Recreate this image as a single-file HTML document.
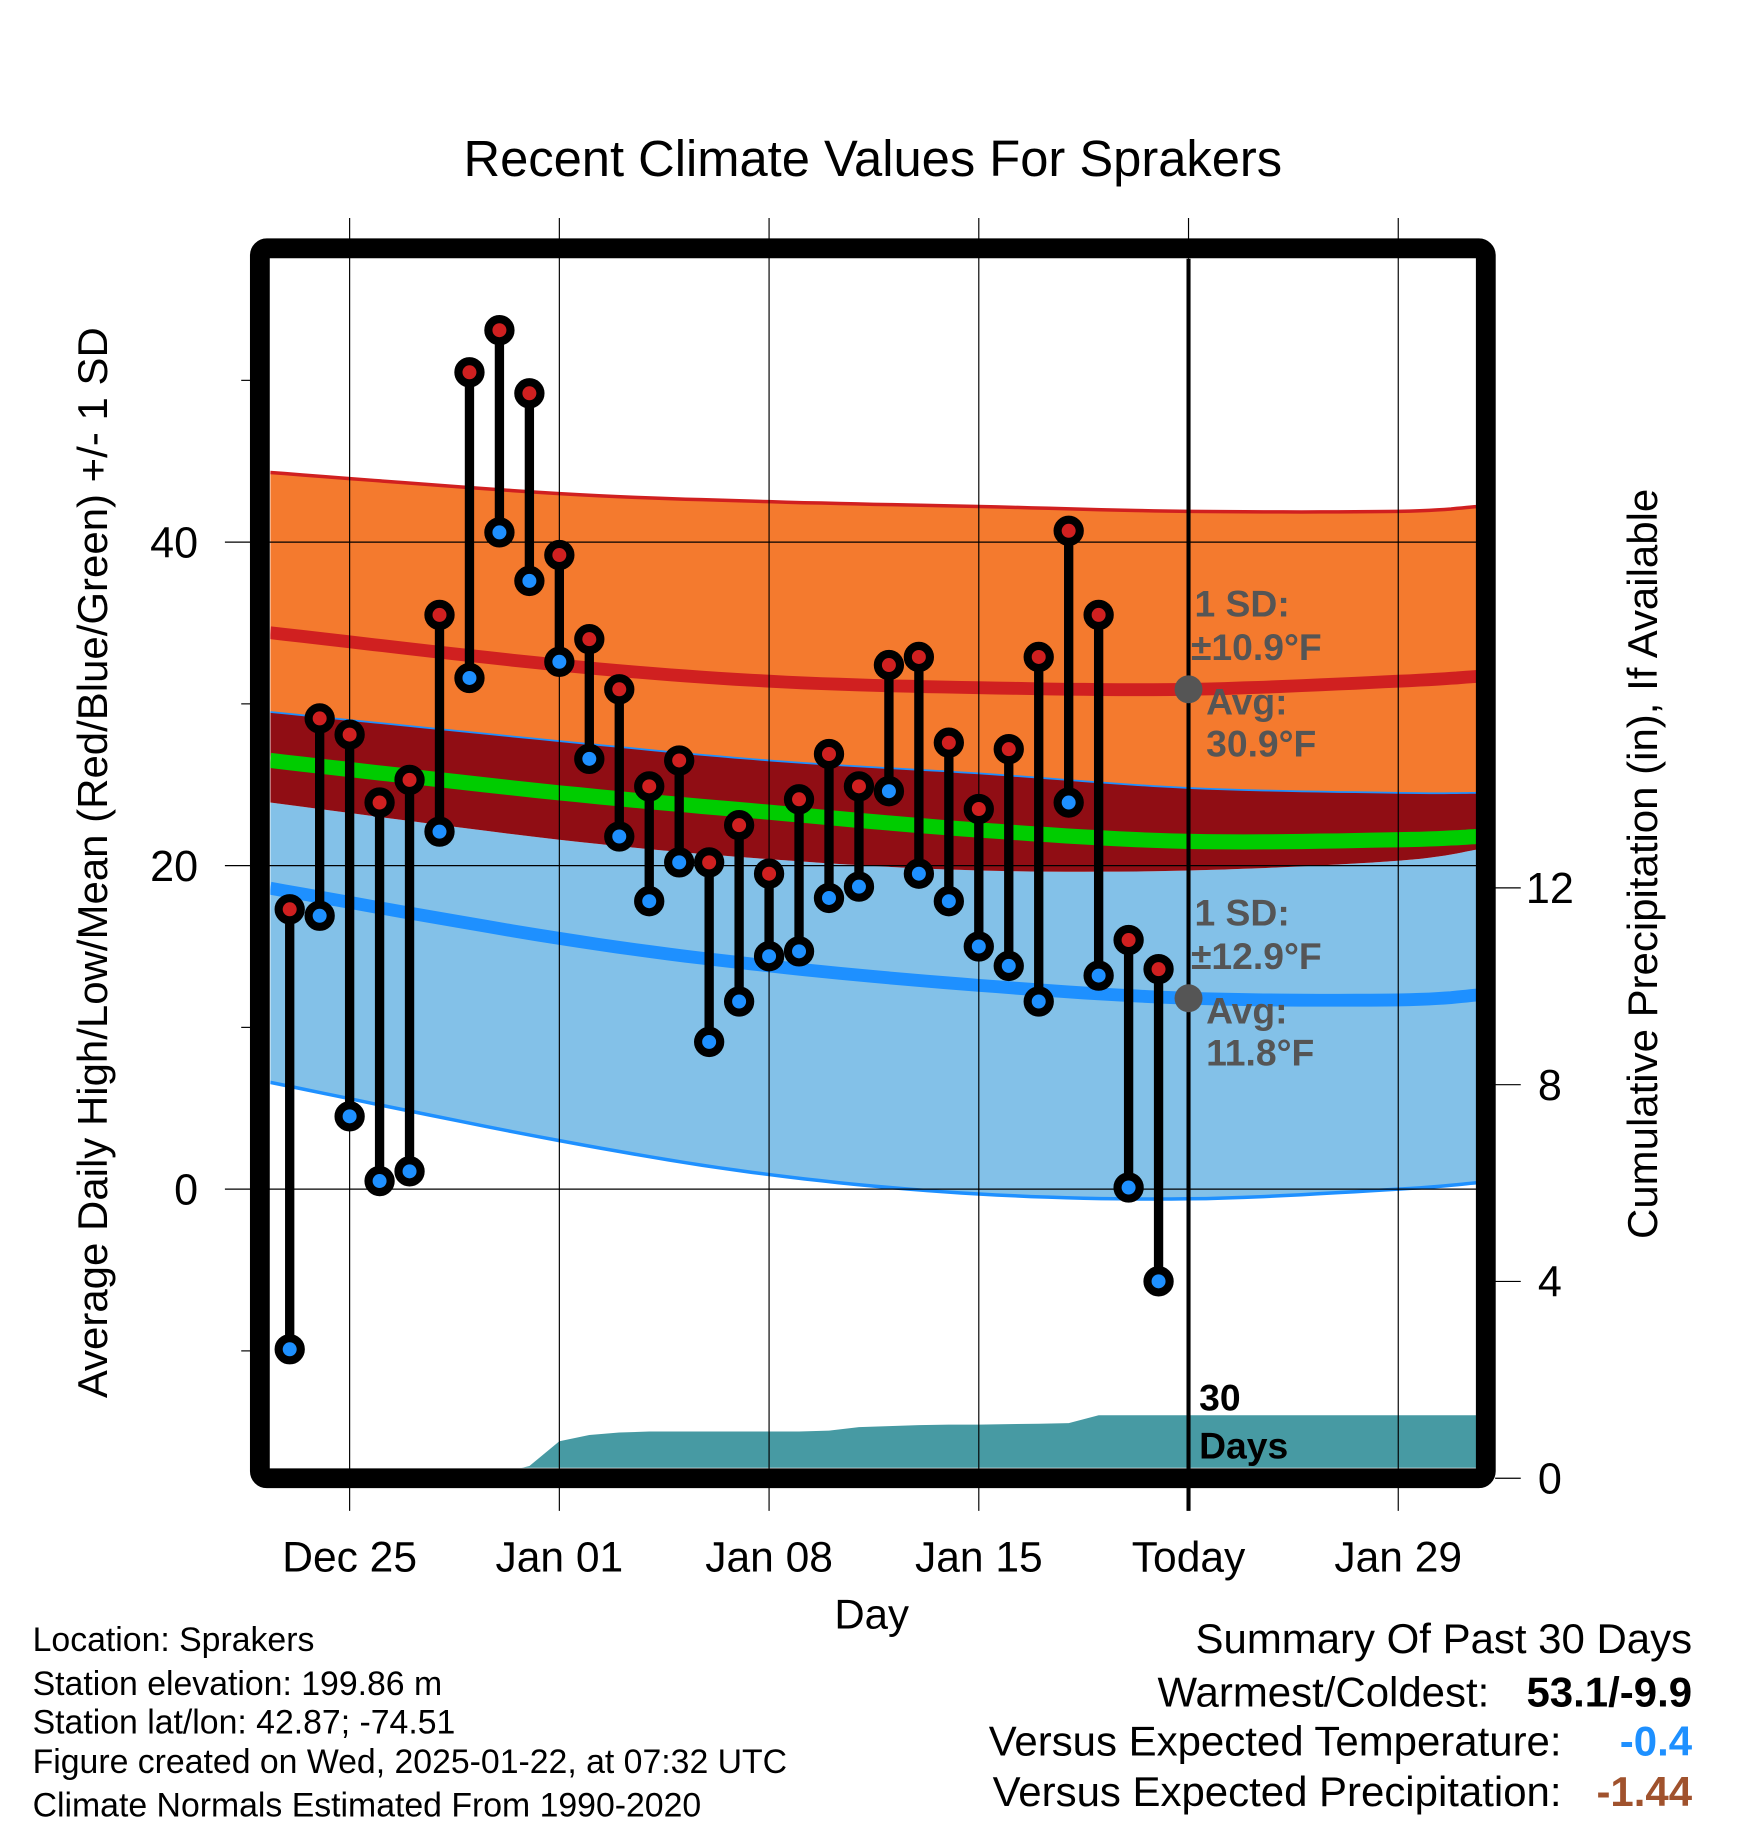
<!DOCTYPE html>
<html><head><meta charset="utf-8"><style>
html,body{margin:0;padding:0;background:#fff}
svg{display:block}
text{font-family:"Liberation Sans",sans-serif}
</style></head><body>
<svg id="chart" width="1748" height="1828" viewBox="0 0 1500 1568" preserveAspectRatio="none" xmlns="http://www.w3.org/2000/svg">
<defs><clipPath id="plotclip"><rect x="232" y="222" width="1035" height="1037"/></clipPath></defs>
<g id="fills" clip-path="url(#plotclip)"></g>
<g id="grid"></g>
<g id="marks"></g>
<rect x="223" y="213" width="1052" height="1055" rx="6" fill="none" stroke="#000" stroke-width="17"/>
<g id="axes"></g>
<text x="749" y="151" font-size="43.5" text-anchor="middle">Recent Climate Values For Sprakers</text>
<text transform="translate(92,740) rotate(-90)" font-size="36" text-anchor="middle">Average Daily High/Low/Mean (Red/Blue/Green) +/- 1 SD</text>
<text transform="translate(1422,741) rotate(-90)" font-size="36" text-anchor="middle">Cumulative Precipitation (in), If Available</text>
<text x="748" y="1397" font-size="36" text-anchor="middle">Day</text>
<g font-size="32" fill="#555" font-weight="bold">
<text x="1025" y="529">1 SD:</text>
<text x="1022" y="566">±10.9°F</text>
<text x="1035" y="613">Avg:</text>
<text x="1035" y="649">30.9°F</text>
<text x="1025" y="794">1 SD:</text>
<text x="1022" y="831">±12.9°F</text>
<text x="1035" y="878">Avg:</text>
<text x="1035" y="914">11.8°F</text>
</g>
<g font-size="32" font-weight="bold">
<text x="1029" y="1210">30</text><text x="1029" y="1251">Days</text>
</g>
<g font-size="29">
<text x="28" y="1416">Location: Sprakers</text>
<text x="28" y="1454">Station elevation: 199.86 m</text>
<text x="28" y="1487">Station lat/lon: 42.87; -74.51</text>
<text x="28" y="1521">Figure created on Wed, 2025-01-22, at 07:32 UTC</text>
<text x="28" y="1558">Climate Normals Estimated From 1990-2020</text>
</g>
<g font-size="36" text-anchor="end">
<text x="1452" y="1418">Summary Of Past 30 Days</text>
<text x="1278" y="1464">Warmest/Coldest:</text>
<text x="1452" y="1464" font-weight="bold">53.1/-9.9</text>
<text x="1340" y="1506">Versus Expected Temperature:</text>
<text x="1452" y="1506" font-weight="bold" fill="#1E90FF">-0.4</text>
<text x="1340" y="1549">Versus Expected Precipitation:</text>
<text x="1452" y="1549" font-weight="bold" fill="#A0522D">-1.44</text>
</g>
</svg>
<script>
// daily observations (Dec 23 .. Jan 21)
const highs = [17.3,29.1,28.1,23.9,25.3,35.5,50.5,53.1,49.2,39.2,34.0,30.9,24.9,26.5,20.2,22.5,19.5,24.1,26.9,24.9,32.4,32.9,27.6,23.5,27.2,32.9,40.7,35.5,15.4,13.6];
const lows = [-9.9,16.9,4.5,0.5,1.1,22.1,31.6,40.6,37.6,32.6,26.6,21.8,17.8,20.2,9.1,11.6,14.4,14.7,18.0,18.7,24.6,19.5,17.8,15.0,13.8,11.6,23.9,13.2,0.1,-5.7];
const precip = [0,0,0,0,0,0,0,0.1,0.25,0.75,0.88,0.93,0.95,0.95,0.95,0.95,0.95,0.95,0.97,1.04,1.06,1.08,1.09,1.09,1.10,1.11,1.12,1.28,1.28,1.28];
// normals sampled at day offsets from Dec 23
const normDays = [-0.65,9,16,23,30,37,39.65];
const upperBand = [44.3,43.0,42.5,42.2,41.9,41.9,42.2];
const avgHigh = [34.4,32.4,31.4,31.0,30.9,31.4,31.7];
const overlapTop = [29.5,27.7,26.5,25.7,24.8,24.5,24.5];
const meanTemp = [26.5,24.5,23.3,22.2,21.5,21.6,21.8];
const overlapBot = [23.9,21.6,20.4,19.7,19.7,20.3,21.0];
const avgLow = [18.6,15.5,13.8,12.6,11.8,11.7,12.0];
const lowerBand = [6.6,3.0,0.9,-0.3,-0.6,0.0,0.4];
const xTickLabels = ["Dec 25","Jan 01","Jan 08","Jan 15","Today","Jan 29"];
const xTickDays = [2,9,16,23,30,37];
const yTicks = [0,20,40];
const yMinor = [-10,10,30,50];
const pTicks = [0,4,8,12];

const NS="http://www.w3.org/2000/svg";
const xs = d => 248.6 + d*25.71;
const ys = t => 1020 - t*13.875;
const yp = p => 1268 - p*42.2;
function mk(tag, attrs, parent){const e=document.createElementNS(NS,tag);for(const k in attrs)e.setAttribute(k,attrs[k]);parent.appendChild(e);return e;}
// smooth curve sample via Catmull-Rom through data points
function curve(arr){
  const P=normDays.map((d,i)=>[xs(d),ys(arr[i])]);
  const out=[];
  for(let i=0;i<P.length-1;i++){
    const p0=P[Math.max(0,i-1)],p1=P[i],p2=P[i+1],p3=P[Math.min(P.length-1,i+2)];
    for(let s=0;s<12;s++){
      const t=s/12,t2=t*t,t3=t2*t;
      const f=(a,b,c,d)=>0.5*((2*b)+(-a+c)*t+(2*a-5*b+4*c-d)*t2+(-a+3*b-3*c+d)*t3);
      out.push([f(p0[0],p1[0],p2[0],p3[0]),f(p0[1],p1[1],p2[1],p3[1])]);
    }
  }
  out.push(P[P.length-1]);
  return out.map(p=>p[0].toFixed(1)+','+p[1].toFixed(1));
}
const fills=document.getElementById('fills');
function area(top,bot,color,name){
  const p=curve(top).concat(curve(bot).reverse()).join(' ');
  const e=mk('polygon',{points:p,fill:color},fills);
  
  
}
function line(arr,color,w,name){
  const e=mk('polyline',{points:curve(arr).join(' '),fill:'none',stroke:color,'stroke-width':w},fills);
  
  
}
area(overlapBot,lowerBand,'#83C1E8','low-sd-band');
area(upperBand,overlapTop,'#F47A2E','high-sd-band');
area(overlapTop,overlapBot,'#900D14','overlap-band');
line(upperBand,'#D02020',3,'high-upper-line');
line(overlapTop,'#1E90FF',1.5,'low-upper-line');
line(lowerBand,'#1E90FF',3,'low-lower-line');
line(meanTemp,'#00CC00',13,'mean-line');
line(avgHigh,'#D02020',11,'avg-high-line');
line(avgLow,'#1E90FF',11,'avg-low-line');
// precip
let pp=[xs(-1)+','+yp(0)];
precip.forEach((v,i)=>{pp.push(xs(i).toFixed(1)+','+yp(v).toFixed(1));});
pp.push(xs(40)+','+yp(precip[precip.length-1]).toFixed(1));
pp.push(xs(40)+','+yp(0));
const pe=mk('polygon',{points:pp.join(' '),fill:'#479AA3'},fills);



const grid=document.getElementById('grid');
xTickDays.forEach((d,i)=>{
  const e=mk('line',{x1:xs(d),x2:xs(d),y1:187,y2:1296,stroke:'#000','stroke-width':i==4?3.5:1},grid);
  if(i==4){e.setAttribute('y1',222);}
  
  
});
const today=mk('line',{x1:xs(30),x2:xs(30),y1:187,y2:222,stroke:'#000','stroke-width':1},grid);


yTicks.forEach(t=>{
  const e=mk('line',{x1:193,x2:1267,y1:ys(t),y2:ys(t),stroke:'#000','stroke-width':1},grid);
  
  
});

const marks=document.getElementById('marks');
const tx=xs(30);
[[avgHigh[4]],[avgLow[4]]].forEach(v=>{
  const c=mk('circle',{cx:tx,cy:ys(v[0]),r:12,fill:'#555'},marks);
  
  
});
highs.forEach((h,i)=>{
  const x=xs(i), l=lows[i];
  const s=mk('line',{x1:x,x2:x,y1:ys(h),y2:ys(l),stroke:'#000','stroke-width':8},marks);
  
  
  [[h,'#D02020','high-marker'],[l,'#1E90FF','low-marker']].forEach(m=>{
    const c=mk('circle',{cx:x,cy:ys(m[0]),r:9.5,fill:m[1],stroke:'#000','stroke-width':7},marks);
    
    
  });
});

const axes=document.getElementById('axes');
yTicks.forEach(t=>{
  const e=mk('text',{x:170,y:ys(t)+13,'font-size':37,'text-anchor':'end'},axes);
  e.textContent=t;
  
  
});
yMinor.forEach(t=>{
  const e=mk('line',{x1:207,x2:215,y1:ys(t),y2:ys(t),stroke:'#000','stroke-width':1},axes);
  
  
});
pTicks.forEach(p=>{
  const l=mk('line',{x1:1283,x2:1305,y1:yp(p),y2:yp(p),stroke:'#000','stroke-width':1},axes);
  
  
  const e=mk('text',{x:1330,y:yp(p)+13,'font-size':37,'text-anchor':'middle'},axes);
  e.textContent=p;
  
  
});
xTickLabels.forEach((s,i)=>{
  const e=mk('text',{x:xs(xTickDays[i]),y:1348,'font-size':36.5,'text-anchor':'middle'},axes);
  e.textContent=s;
  
  
});
</script>
</body></html>
